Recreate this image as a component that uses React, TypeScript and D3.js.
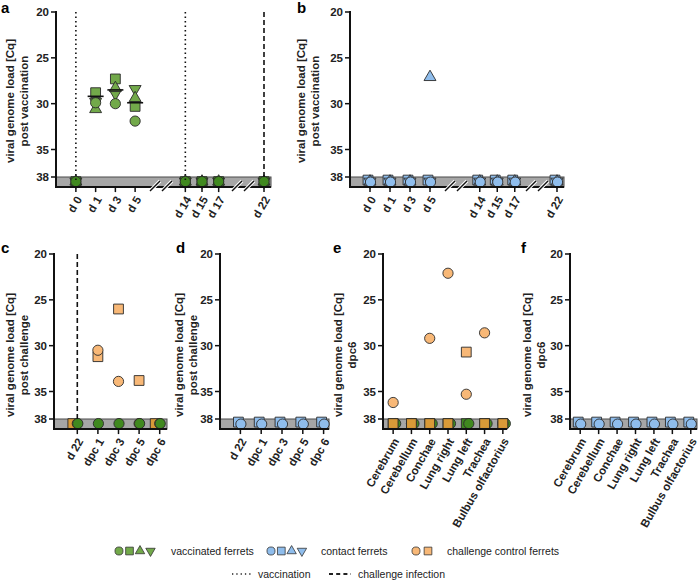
import React from 'react';
import * as d3 from 'd3';

// values below the detection limit (38) are drawn inside the grey band
const LOD = 38.5;
const yTicks = [20, 25, 30, 35, 38];

// a + b: post vaccination
const vacTimes = ['d 0', 'd 1', 'd 3', 'd 5', 'd 14', 'd 15', 'd 17', 'd 22'];
const vacGroups = [4, 3, 1];
const vaccinatedCircleA = [LOD, 29.9, 30.0, 31.9, LOD, LOD, LOD, LOD];
const vaccinatedSquareA = [LOD, 28.8, 27.3, 30.3, LOD, LOD, LOD, LOD];
const vaccinatedUpA = [LOD, 30.6, 28.3, 29.4, LOD, LOD, LOD, LOD];
const vaccinatedDownA = [LOD, 29.8, 28.9, 28.4, LOD, LOD, LOD, LOD];
const vaccinatedMedianA = [null, 29.2, 28.5, 29.9, null, null, null, null];
const contactCircleB = [LOD, LOD, LOD, LOD, LOD, LOD, LOD, LOD];
const contactSquareB = [LOD, LOD, LOD, LOD, LOD, LOD, LOD, LOD];
const contactUpB = [LOD, LOD, LOD, 27.1, LOD, LOD, LOD, LOD];
const contactDownB = [LOD, LOD, LOD, LOD, LOD, LOD, LOD, LOD];

// c + d: post challenge
const challengeTimes = ['d 22', 'dpc 1', 'dpc 3', 'dpc 5', 'dpc 6'];
const challengeSquareC = [LOD, 31.2, 26.0, 33.8, LOD];
const challengeCircleC = [LOD, 30.5, 33.9, LOD, LOD];
const vaccinatedCircleC = [LOD, LOD, LOD, LOD, LOD];
const contactCircleD = [LOD, LOD, LOD, LOD, LOD];
const contactSquareD = [LOD, LOD, LOD, LOD, LOD];

// e + f: organs dpc6
const organs = ['Cerebrum', 'Cerebellum', 'Conchae', 'Lung right', 'Lung left', 'Trachea', 'Bulbus olfactorius'];
const vaccinatedSquareE = [LOD, LOD, LOD, LOD, LOD, LOD, LOD];
const vaccinatedCircleE = [LOD, LOD, LOD, LOD, LOD, LOD, LOD];
const challengeCircleE = [36.2, LOD, 29.2, 22.1, 35.3, 28.6, LOD];
const challengeSquareE = [LOD, LOD, LOD, LOD, 30.7, LOD, LOD];
const contactCircleF = [LOD, LOD, LOD, LOD, LOD, LOD, LOD];
const contactSquareF = [LOD, LOD, LOD, LOD, LOD, LOD, LOD];

const FONT = '"Liberation Sans", Arial, sans-serif';
const GREEN = { fill: '#72a94a', low: '#40891f' };
const BLUE = { fill: '#8fbdec', low: '#8fbdec' };
const ORANGE = { fill: '#f8b877', low: '#d99a38' };

const shapes: any = {
  circle: { type: d3.symbolCircle, size: 82, rot: 0 },
  square: { type: d3.symbolSquare, size: 96, rot: 0 },
  up: { type: d3.symbolTriangle, size: 62, rot: 0 },
  down: { type: d3.symbolTriangle, size: 62, rot: 180 },
};

function symbolPath(shape: string, scale = 1) {
  const s = shapes[shape];
  return d3.symbol().type(s.type).size(s.size * scale)() as string;
}

type Series = { values: (number | null)[]; shape: string; color: { fill: string; low: string }; dx?: number; dy?: number };

type PanelProps = {
  letter: string;
  letterX: number;
  top: number;
  axisX: number;
  xEnd: number;
  cats: string[];
  groups: number[];
  ranges: [number, number][];
  breaks?: number[];
  title: string[];
  titleX: number;
  titleY: number;
  series: Series[];
  medians?: (number | null)[];
  vlines?: { cat: string; dash: string }[];
};

function Panel(p: PanelProps) {
  const y = d3.scaleLinear().domain([20, 38]).range([p.top, p.top + 165]);
  const bottom = y(39.1);

  // one point scale per axis segment (the x axis is discontinuous)
  const xPos: Record<string, number> = {};
  let start = 0;
  p.groups.forEach((n, i) => {
    const seg = p.cats.slice(start, start + n);
    const sc = d3.scalePoint<string>().domain(seg).range(p.ranges[i]).padding(0.5);
    seg.forEach((c) => (xPos[c] = sc(c) as number));
    start += n;
  });

  return (
    <g>
      <text x={p.letterX} y={p.top === 12 ? 13 : 253} fontSize={15} fontWeight="bold" fontFamily={FONT}>
        {p.letter}
      </text>
      {p.title.map((t, i) => (
        <text
          key={t}
          transform={`translate(${p.titleX + i * 13.5},${p.titleY}) rotate(-90)`}
          textAnchor="middle"
          dominantBaseline="central"
          fontSize={11.5}
          fontWeight="bold"
          fontFamily={FONT}
          fill="#222"
        >
          {t}
        </text>
      ))}

      <rect x={p.axisX} y={y(38)} width={p.xEnd - p.axisX} height={bottom - y(38)} fill="#a6a6a6" stroke="#4a4a4a" strokeWidth={1} />

      {p.series.map((s, si) =>
        s.values.map((v, i) =>
          v == null ? null : (
            <path
              key={si + '-' + i}
              d={symbolPath(s.shape)}
              transform={`translate(${xPos[p.cats[i]] + (v === LOD ? s.dx || 0 : 0)},${y(v) + (v === LOD ? s.dy || 0 : 0)}) rotate(${shapes[s.shape].rot})`}
              fill={v === LOD ? s.color.low : s.color.fill}
              stroke="#2a2a2a"
              strokeWidth={0.9}
            />
          )
        )
      )}

      {(p.medians || []).map((m, i) =>
        m == null ? null : (
          <line key={'m' + i} x1={xPos[p.cats[i]] - 8} x2={xPos[p.cats[i]] + 8} y1={y(m)} y2={y(m)} stroke="#111" strokeWidth={1.6} />
        )
      )}

      {(p.vlines || []).map((l) => (
        <line
          key={'v' + l.cat}
          x1={xPos[l.cat]}
          x2={xPos[l.cat]}
          y1={p.top}
          y2={y(38) + 3}
          stroke="#111"
          strokeWidth={1.6}
          strokeDasharray={l.dash}
        />
      ))}

      {/* axes */}
      <line x1={p.axisX} x2={p.axisX} y1={p.top - 1} y2={bottom + 1} stroke="#111" strokeWidth={2} />
      <line x1={p.axisX} x2={p.xEnd} y1={bottom} y2={bottom} stroke="#111" strokeWidth={2} />
      {yTicks.map((t) => (
        <g key={t}>
          <line x1={p.axisX - 5} x2={p.axisX} y1={y(t)} y2={y(t)} stroke="#111" strokeWidth={1.5} />
          <text x={p.axisX - 7} y={y(t)} textAnchor="end" dominantBaseline="central" fontSize={11.5} fontWeight="bold" fontFamily={FONT} fill="#222">
            {t}
          </text>
        </g>
      ))}
      {p.cats.map((c) => (
        <g key={c}>
          <line x1={xPos[c]} x2={xPos[c]} y1={bottom} y2={bottom + 5} stroke="#111" strokeWidth={1.5} />
          <text
            transform={`translate(${xPos[c] + 3},${bottom + 10}) rotate(-60)`}
            textAnchor="end"
            dominantBaseline="central"
            fontSize={11.5}
            fontWeight="bold"
            fontFamily={FONT}
            fill="#222"
          >
            {c}
          </text>
        </g>
      ))}
      {(p.breaks || []).map((b) =>
        [-6, 6].map((o) => (
          <g key={'b' + b + o}>
            <line x1={b + o - 5} x2={b + o + 5} y1={bottom + 4} y2={bottom - 6} stroke="#fff" strokeWidth={3.5} />
            <line x1={b + o - 5} x2={b + o + 5} y1={bottom + 4} y2={bottom - 6} stroke="#111" strokeWidth={1.5} />
          </g>
        ))
      )}
    </g>
  );
}

function Legend() {
  const row1 = 551;
  const row2 = 574;
  const item = (shape: string, color: string, x: number) => (
    <path key={shape + x} d={symbolPath(shape, 0.62)} transform={`translate(${x},${row1}) rotate(${shapes[shape].rot})`} fill={color} stroke="#333" strokeWidth={0.8} />
  );
  const txt = (s: string, x: number, yy: number) => (
    <text x={x} y={yy} dominantBaseline="central" fontSize={10.5} fontFamily={FONT} fill="#222">
      {s}
    </text>
  );
  return (
    <g>
      {['circle', 'square', 'up', 'down'].map((s, i) => item(s, GREEN.fill, 119 + i * 10.5))}
      {txt('vaccinated ferrets', 171, row1)}
      {['circle', 'square', 'up', 'down'].map((s, i) => item(s, BLUE.fill, 271 + i * 10.3))}
      {txt('contact ferrets', 321, row1)}
      {['circle', 'square'].map((s, i) => item(s, ORANGE.fill, 416 + i * 12))}
      {txt('challenge control ferrets', 447, row1)}
      <line x1={232} x2={253} y1={row2} y2={row2} stroke="#222" strokeWidth={1.3} strokeDasharray="1.3,3" />
      {txt('vaccination', 258, row2)}
      <line x1={329} x2={351} y1={row2} y2={row2} stroke="#222" strokeWidth={2} strokeDasharray="4,3.2" />
      {txt('challenge infection', 358, row2)}
    </g>
  );
}

export default function App() {
  const vacTitle = ['viral genome load [Cq]', 'post vaccination'];
  const chTitle = ['viral genome load [Cq]', 'post challenge'];
  const orgTitle = ['viral genome load [Cq]', 'dpc6'];
  return (
    <svg width={698} height={581} style={{ position: 'absolute', left: 0, top: 0, background: '#fff' }}>
      <Panel
        letter="a"
        letterX={1}
        top={12}
        axisX={56}
        xEnd={271}
        cats={vacTimes}
        groups={vacGroups}
        ranges={[[66, 145], [177, 227], [257, 271]]}
        breaks={[161, 243]}
        title={vacTitle}
        titleX={10}
        titleY={101}
        series={[
          { values: vaccinatedDownA, shape: 'down', color: GREEN },
          { values: vaccinatedSquareA, shape: 'square', color: GREEN },
          { values: vaccinatedUpA, shape: 'up', color: GREEN },
          { values: vaccinatedCircleA, shape: 'circle', color: GREEN },
        ]}
        medians={vaccinatedMedianA}
        vlines={[
          { cat: 'd 0', dash: '1.5,3' },
          { cat: 'd 14', dash: '1.5,3' },
          { cat: 'd 22', dash: '5,3' },
        ]}
      />
      <Panel
        letter="b"
        letterX={297}
        top={12}
        axisX={350}
        xEnd={564}
        cats={vacTimes}
        groups={vacGroups}
        ranges={[[360, 440], [471, 523.5], [550, 564]]}
        breaks={[456, 537]}
        title={vacTitle}
        titleX={301}
        titleY={101}
        series={[
          { values: contactSquareB, shape: 'square', color: BLUE, dx: -2, dy: -1.5 },
          { values: contactDownB, shape: 'down', color: BLUE },
          { values: contactUpB, shape: 'up', color: BLUE },
          { values: contactCircleB, shape: 'circle', color: BLUE, dx: 0.5, dy: 0.5 },
        ]}
      />
      <Panel
        letter="c"
        letterX={1}
        top={254}
        axisX={54}
        xEnd={167}
        cats={challengeTimes}
        groups={[5]}
        ranges={[[67, 170]]}
        title={chTitle}
        titleX={10}
        titleY={355}
        series={[
          { values: challengeSquareC, shape: 'square', color: ORANGE, dx: -4.5 },
          { values: challengeCircleC, shape: 'circle', color: ORANGE },
          { values: vaccinatedCircleC, shape: 'circle', color: GREEN, dx: 0.5 },
        ]}
        vlines={[{ cat: 'd 22', dash: '5,3' }]}
      />
      <Panel
        letter="d"
        letterX={176}
        top={254}
        axisX={220}
        xEnd={329}
        cats={challengeTimes}
        groups={[5]}
        ranges={[[230, 334]]}
        title={chTitle}
        titleX={179}
        titleY={355}
        series={[
          { values: contactSquareD, shape: 'square', color: BLUE, dx: -2, dy: -1.5 },
          { values: contactCircleD, shape: 'circle', color: BLUE, dx: 0.5, dy: 0.5 },
        ]}
      />
      <Panel
        letter="e"
        letterX={333}
        top={254}
        axisX={383}
        xEnd={507}
        cats={organs}
        groups={[7]}
        ranges={[[384, 512]]}
        title={orgTitle}
        titleX={338}
        titleY={355}
        series={[
          { values: vaccinatedSquareE, shape: 'square', color: GREEN },
          { values: vaccinatedCircleE, shape: 'circle', color: GREEN, dx: 2.5 },
          { values: challengeCircleE, shape: 'circle', color: ORANGE },
          { values: challengeSquareE, shape: 'square', color: ORANGE },
        ]}
      />
      <Panel
        letter="f"
        letterX={521}
        top={254}
        axisX={570}
        xEnd={697}
        cats={organs}
        groups={[7]}
        ranges={[[571, 700]]}
        title={orgTitle}
        titleX={527}
        titleY={355}
        series={[
          { values: contactSquareF, shape: 'square', color: BLUE, dx: -2, dy: -1.5 },
          { values: contactCircleF, shape: 'circle', color: BLUE, dx: 0.5, dy: 0.5 },
        ]}
      />
      <Legend />
    </svg>
  );
}
